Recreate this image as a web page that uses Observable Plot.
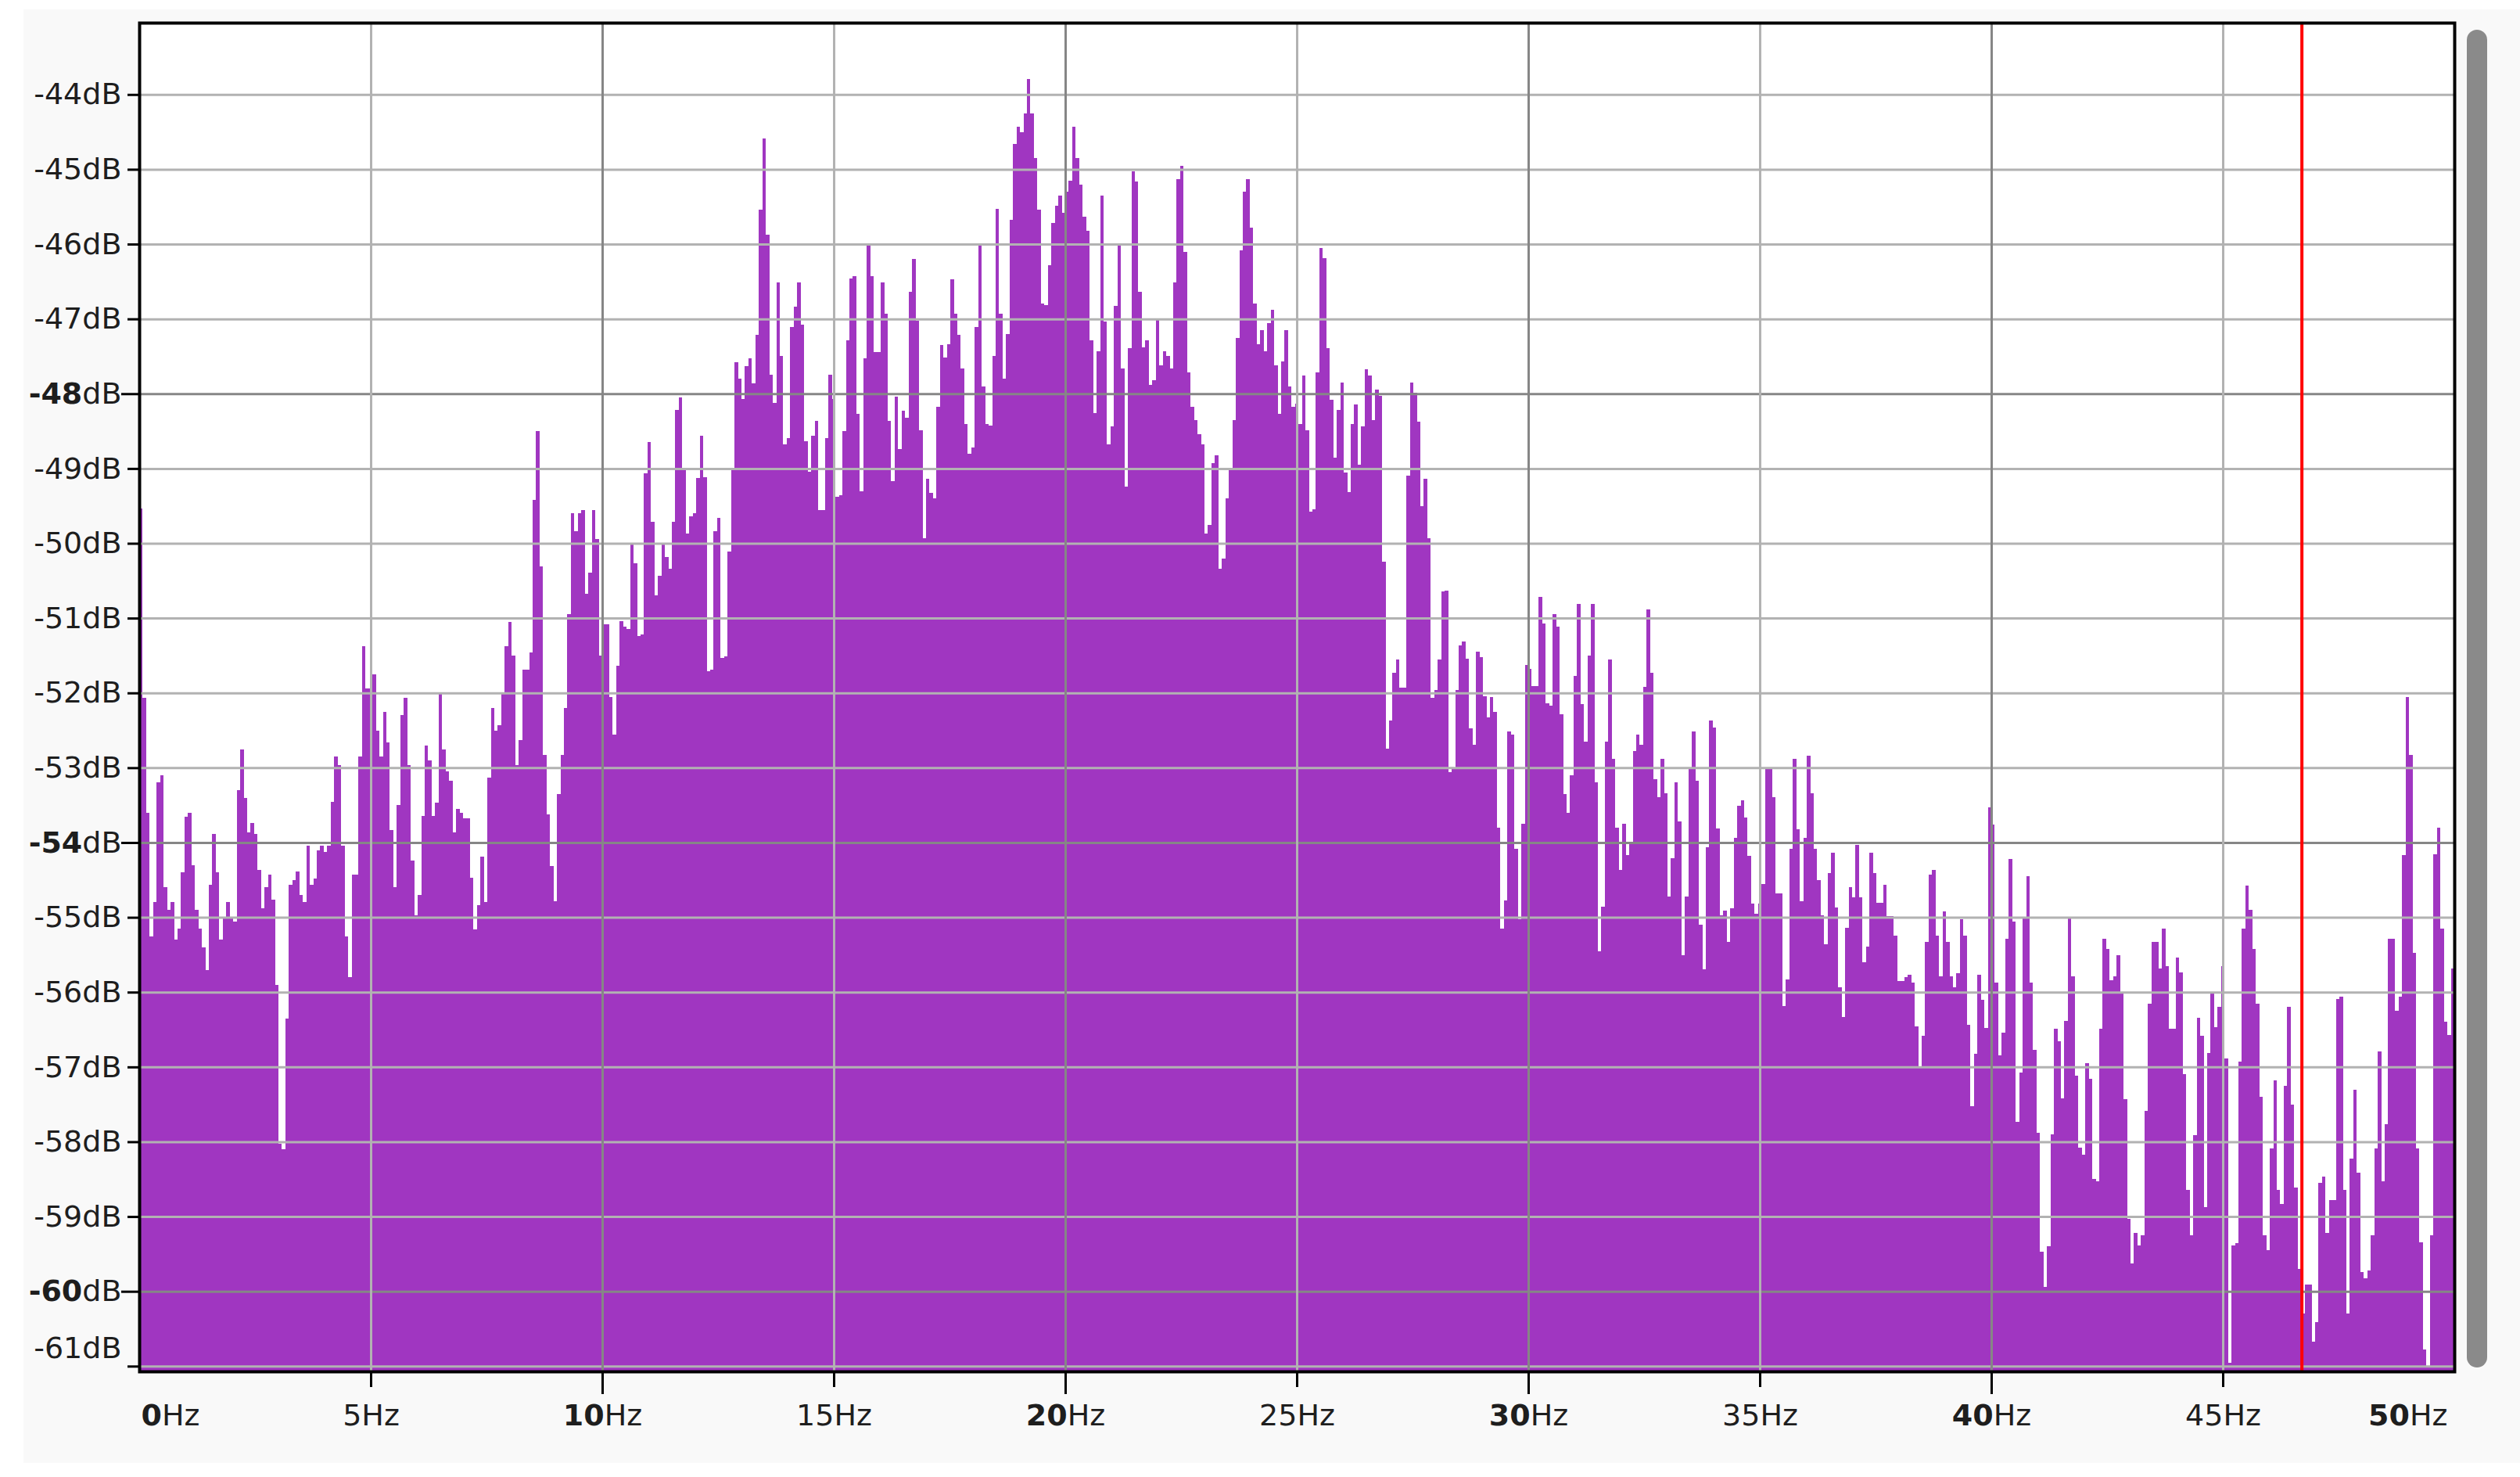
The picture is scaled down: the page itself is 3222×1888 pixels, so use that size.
<!DOCTYPE html>
<html><head><meta charset="utf-8">
<script src="https://cdn.jsdelivr.net/npm/d3@7"></script>
<script src="https://cdn.jsdelivr.net/npm/@observablehq/plot@0.6"></script>
<style>
html,body{margin:0;padding:0;background:#fff;}
#wrap{position:relative;width:3222px;height:1888px;overflow:hidden;}
#panel{position:absolute;left:30px;top:12px;width:3192px;height:1858px;background:#f9f9f9;}
#chart{position:absolute;left:0;top:0;}
#scroll{position:absolute;left:3154px;top:38px;width:26px;height:1710px;background:#8a8a8a;border-radius:13px;}
</style></head><body>
<div id="wrap"><div id="panel"></div><div id="chart"></div><div id="scroll"></div></div>
<script>
// Spectrum levels (dB) per FFT bin, 0 Hz -> 50 Hz
const band0to8Hz = [
-49.53,-52.07,-53.6,-55.25,-54.8,-53.2,-53.1,-54.6,-54.9,-54.8,
-55.3,-55.15,-54.4,-53.65,-53.6,-54.3,-54.9,-55.15,-55.4,-55.7,
-54.57,-53.88,-54.4,-55.3,-55.0,-54.8,-55.0,-55.06,-53.3,-52.76,
-53.4,-53.86,-53.74,-53.88,-54.37,-54.88,-54.6,-54.43,-54.76,-55.9,
-58.03,-58.1,-56.35,-54.56,-54.5,-54.39,-54.7,-54.8,-54.04,-54.56,
-54.48,-54.1,-54.04,-54.13,-54.04,-53.46,-52.85,-52.96,-54.04,-55.25,
-55.8,-54.43,-54.43,-52.85,-51.38,-51.94,-51.94,-51.75,-52.5,-52.85,
-52.25,-52.66,-53.83,-54.6,-53.5,-52.3,-52.07,-52.96,-54.24,-54.97,
-54.7,-53.64,-52.7,-52.9,-53.64,-53.47,-52.0,-52.76,-53.05,-53.17,
-53.86,-53.55,-53.6,-53.68,-53.68,-54.47,-55.16,-54.84,-54.19,-54.8,
-53.13,-52.2,-52.5,-52.43,-52.0,-51.38,-51.05,-51.5,-52.96,-52.63
];
const band8to17Hz = [
-51.69,-51.69,-51.46,-49.42,-48.50,-50.31,-52.83,-53.62,-54.31,-54.78,
-53.35,-52.83,-52.20,-50.95,-49.60,-49.84,-49.60,-49.56,-50.67,-50.39,
-49.56,-49.94,-51.50,-51.08,-51.08,-52.05,-52.56,-51.64,-51.04,-51.11,
-51.15,-50.02,-50.27,-51.24,-51.22,-49.06,-48.65,-49.71,-50.70,-50.43,
-50.02,-50.18,-50.34,-49.71,-48.22,-48.05,-49.01,-49.87,-49.64,-49.60,
-49.13,-48.56,-49.12,-51.71,-51.69,-49.84,-49.66,-51.53,-51.51,-50.11,
-48.99,-47.58,-47.80,-48.07,-47.63,-47.53,-47.86,-47.21,-45.54,-44.59,
-45.87,-47.75,-48.12,-46.51,-47.49,-48.68,-48.59,-47.11,-46.84,-46.51,
-47.08,-48.64,-49.04,-48.56,-48.36,-49.56,-49.56,-48.59,-47.75,-48.07,
-49.38,-49.36,-48.50,-47.29,-46.46,-46.43,-48.27,-49.30,-47.53,-46.00,
-46.43,-47.44,-47.44,-46.51,-46.93,-48.36,-49.17,-48.04,-48.74,-48.23,
-48.32,-46.64,-46.20
];
const band17to25Hz = [
-47.02,-48.49,-49.93,-49.14,-49.33,-49.40,-48.18,
-47.35,-47.52,-47.34,-46.47,-46.93,-47.21,-47.66,-48.40,-48.80,-48.72,
-47.11,-46.00,-47.90,-48.41,-48.43,-47.49,-45.53,-46.93,-47.80,-47.20,
-45.68,-44.66,-44.43,-44.50,-44.25,-43.79,-44.25,-44.85,-45.54,-46.79,
-46.82,-46.28,-45.72,-45.49,-45.35,-45.58,-45.30,-45.15,-44.43,-44.85,
-45.21,-45.63,-45.82,-47.29,-48.26,-47.43,-45.35,-47.03,-48.68,-48.44,
-46.83,-46.00,-47.66,-49.24,-47.39,-45.03,-45.16,-46.64,-47.38,-47.29,
-47.88,-47.82,-47.01,-47.62,-47.43,-47.49,-47.66,-46.51,-45.13,-44.95,
-46.10,-47.71,-48.18,-48.35,-48.54,-48.68,-49.87,-49.75,-48.93,-48.82,
-50.34,-50.20,-49.40,-49.00,-48.35,-47.25,-46.08,-45.30,-45.13,-45.78,
-46.79,-47.34,-47.15,-47.43,-47.06,-46.88,-47.62,-48.27,-47.57,-47.15,
-47.90,-48.18,-48.13,-48.40,-47.76
];
const band25to33Hz = [
-48.49,-49.58,-49.55,-47.71,-46.05,-46.19,-47.39,-48.08,-48.86,-48.22,
-47.85,-49.05,-49.32,-48.40,-48.14,-48.95,-48.44,-47.67,-47.76,-48.35,
-47.95,-48.03,-50.25,-52.75,-52.37,-51.73,-51.55,-51.93,-51.93,-49.10,
-47.85,-47.99,-48.37,-49.50,-49.14,-49.93,-52.07,-51.96,-51.55,-50.64,
-50.63,-53.06,-53.01,-51.96,-51.36,-51.31,-51.54,-52.47,-52.69,-51.45,
-51.52,-52.04,-52.33,-52.06,-52.25,-53.80,-55.15,-54.77,-52.52,-52.56,
-54.08,-55.02,-53.75,-51.63,-51.68,-51.91,-51.91,-50.72,-51.07,-52.14,
-52.17,-50.95,-51.11,-52.28,-53.35,-53.60,-53.10,-51.77,-50.81,-52.15,
-52.65,-51.50,-50.81,-53.20,-55.45,-54.86,-52.65,-51.55,-52.88,-53.80,
-54.37,-53.75,-54.17,-54.01,-52.78,-52.56,-52.69,-51.92,-50.88,-51.73,
-53.15,-53.39,-52.88,-53.34,-54.72,-54.21,-53.20,-53.72,-55.51,-54.72,
-53.01
];
const band33to42Hz = [
-52.51,-53.17,-55.10,-55.69,-54.06,-52.37,-52.46,-53.81,-54.97,
-54.91,-55.33,-54.88,-53.94,-53.51,-53.44,-53.67,-54.18,-54.82,-54.95,
-54.82,-54.55,-53.00,-53.01,-53.39,-54.68,-54.68,-56.19,-55.83,-54.08,
-52.88,-53.82,-54.78,-53.94,-52.84,-53.34,-54.08,-54.50,-54.97,-55.36,
-54.41,-54.14,-54.87,-55.94,-56.33,-55.14,-54.60,-54.73,-54.03,-54.73,
-55.60,-55.39,-54.14,-54.41,-54.81,-54.81,-54.56,-54.98,-54.98,-55.24,
-55.85,-55.85,-55.80,-55.77,-55.87,-56.46,-56.99,-56.58,-55.33,-54.43,
-54.37,-55.24,-55.79,-54.92,-55.33,-55.79,-55.94,-55.75,-55.02,-55.24,
-56.44,-57.52,-56.82,-55.77,-56.10,-56.48,-53.53,-53.76,-55.87,-56.85,
-56.54,-55.29,-54.22,-55.06,-57.73,-57.07,-55.00,-54.45,-55.87,-56.77,
-57.88,-59.47,-59.94,-59.40,-57.90,-56.49,-56.66,-57.42,-56.38,-55.00,
-55.79,-57.12
];
const band42to50Hz = [
-58.08,-58.17,-56.95,
-57.16,-58.50,-58.53,-56.49,-55.29,-55.42,-55.84,-55.79,-55.51,-56.02,
-57.43,-59.03,-59.63,-59.22,-59.39,-59.25,-57.59,-56.15,-55.33,-55.33,
-55.68,-55.15,-55.65,-56.49,-56.49,-55.54,-55.74,-57.10,-58.64,-59.25,
-57.91,-56.34,-56.58,-58.87,-56.81,-56.02,-56.47,-56.20,-55.65,-56.89,
-60.96,-59.39,-59.36,-56.93,-55.15,-54.58,-54.90,-55.42,-56.15,-57.40,
-59.25,-59.45,-58.09,-57.18,-58.64,-58.83,-57.25,-56.20,-57.50,-58.61,
-59.70,-60.30,-59.91,-59.91,-60.67,-60.41,-58.55,-58.47,-59.22,-58.78,
-58.78,-56.09,-56.06,-58.64,-60.30,-58.23,-57.30,-58.41,-59.74,-59.83,
-59.72,-59.25,-58.09,-56.79,-58.53,-57.77,-55.29,-55.29,-56.25,-56.06,
-54.17,-52.05,-52.83,-55.47,-58.09,-59.34,-60.78,-61.00,-59.25,-54.16,
-53.80,-55.15,-56.40,-56.57,-55.68
];

const maxHz = 50;
const dbTop = -43.04, dbBottom = -61.07;
const dbTicks = d3.range(-44, -62, -1);           // -44 ... -61
const dbMajor = [-48, -54, -60];
const hzTicks = [0, 5, 10, 15, 20, 25, 30, 35, 40, 45, 50];
const hzMajor = [0, 10, 20, 30, 40, 50];
const markerHz = 46.7;

const spectrumDb = [...band0to8Hz, ...band8to17Hz, ...band17to25Hz, ...band25to33Hz, ...band33to42Hz, ...band42to50Hz];
const binHz = maxHz / spectrumDb.length;
const bins = spectrumDb.map((db, i) => ({f0: i * binHz, f1: (i + 1) * binHz, db}));

const dbMinor = dbTicks.filter(d => !dbMajor.includes(d));
const dbMinorLabeled = dbMinor.filter(d => d !== -61);
const hzMinor = hzTicks.filter(d => !hzMajor.includes(d));
const hzMajorInner = hzMajor.filter(d => d !== 0 && d !== 50);

const fmtDb = d => `${d}dB`;
const fmtHz = d => `${d}Hz`;
const FS = 38;
const labelColor = "#1e1e1e";

const chart = Plot.plot({
  width: 3222, height: 1888,
  marginLeft: 178, marginRight: 84, marginTop: 29, marginBottom: 135,
  x: {domain: [0, maxHz]},
  y: {domain: [dbBottom, dbTop]},
  style: {background: "transparent", fontFamily: "DejaVu Sans", fontSize: FS + "px", color: labelColor, overflow: "visible"},
  marks: [
    Plot.frame({fill: "#ffffff"}),
    Plot.rect(bins, {x1: "f0", x2: "f1", y1: dbBottom, y2: "db", fill: "#a036c1", shapeRendering: "crispEdges"}),
    Plot.ruleY(dbMinor, {stroke: "#b2b2b2", strokeWidth: 3}),
    Plot.ruleY(dbMajor, {stroke: "#868686", strokeWidth: 3}),
    Plot.ruleX(hzMinor, {stroke: "#b2b2b2", strokeWidth: 3}),
    Plot.ruleX(hzMajor, {stroke: "#868686", strokeWidth: 3}),
    Plot.ruleX([markerHz], {stroke: "#ff0000", strokeWidth: 4}),
    Plot.frame({stroke: "#000000", strokeWidth: 4}),
    // y axis
    Plot.axisY(dbMinorLabeled, {tickSize: 15, tickPadding: 8, tickFormat: fmtDb, fontSize: FS, strokeWidth: 3, stroke: "#000", label: null}),
    Plot.axisY(dbMajor, {tickSize: 23, tickPadding: 0, tickFormat: fmtDb, fontSize: FS, strokeWidth: 3, stroke: "#000", label: null}),
    Plot.axisY([-61], {tickSize: 15, text: null, strokeWidth: 3, stroke: "#000", label: null}),
    Plot.text([-61], {x: 0, y: d => d, text: fmtDb, textAnchor: "end", dx: -23, dy: -23, fontSize: FS, fill: labelColor}),
    // x axis
    Plot.axisX(hzMinor, {tickSize: 20, tickPadding: 22, tickFormat: fmtHz, fontSize: FS, strokeWidth: 3, stroke: "#000", label: null}),
    Plot.axisX(hzMajorInner, {tickSize: 29, tickPadding: 13, tickFormat: fmtHz, fontSize: FS, strokeWidth: 3, stroke: "#000", label: null}),
    Plot.axisX([0], {tickSize: 0, tickPadding: 42, tickFormat: fmtHz, fontSize: FS, textAnchor: "start", dx: 2, label: null}),
    Plot.axisX([50], {tickSize: 0, tickPadding: 42, tickFormat: fmtHz, fontSize: FS, textAnchor: "end", dx: -9, label: null})
  ]
});

// bold the numeric part of the major tick labels
const boldDb = new Set(dbMajor), boldHz = new Set(hzMajor);
d3.select(chart).selectAll("text").each(function() {
  const m = this.textContent.match(/^(-?\d+)(dB|Hz)$/);
  if (!m) return;
  const v = +m[1];
  const isBold = (m[2] === "dB" && boldDb.has(v)) || (m[2] === "Hz" && boldHz.has(v));
  if (!isBold) return;
  const sel = d3.select(this);
  sel.text(null);
  sel.append("tspan").attr("font-weight", "bold").text(m[1]);
  sel.append("tspan").text(m[2]);
});

document.getElementById("chart").appendChild(chart);
</script>
</body></html>
